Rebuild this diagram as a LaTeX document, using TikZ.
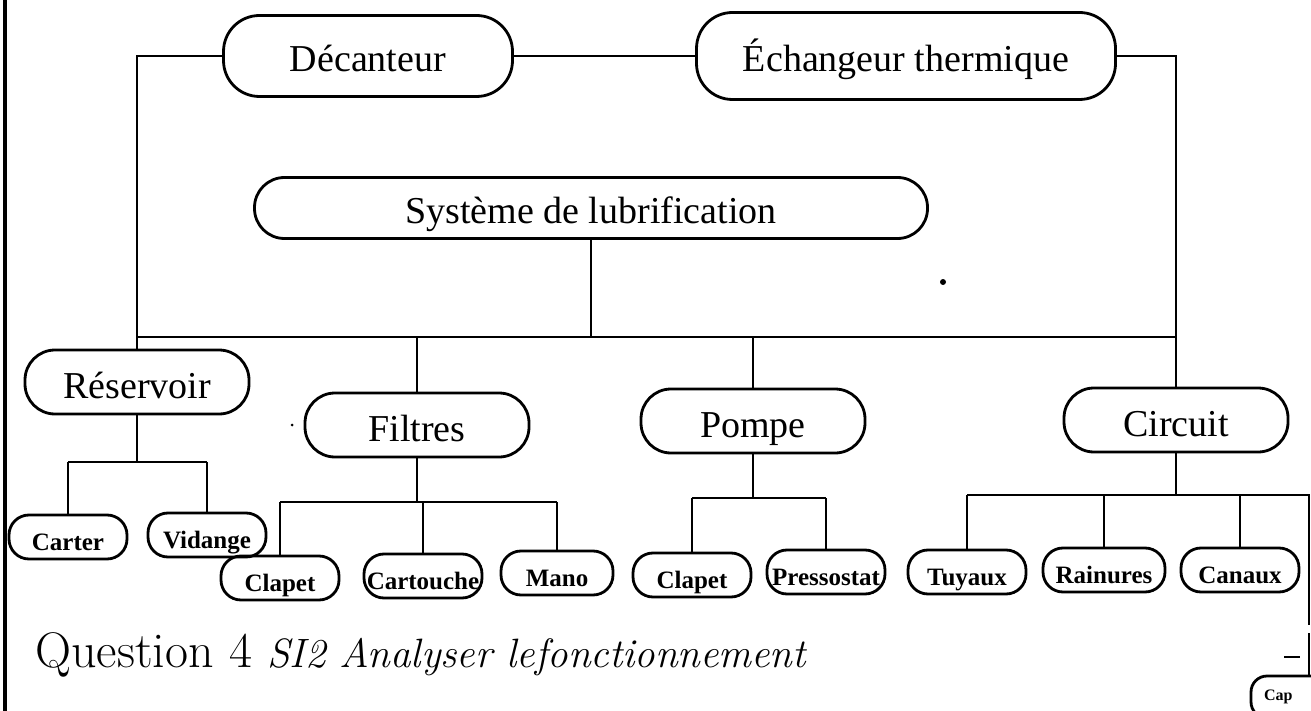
\documentclass[tikz,border=0pt]{standalone}
\usepackage{fontspec}
\newfontfamily\boxfont{Liberation Serif}
\usetikzlibrary{calc}

\tikzset{
  topbox/.style={draw, line width=1.4pt, rounded corners=18pt, inner sep=0pt,
    text height=18pt, text depth=2pt, font=\boxfont\fontsize{19}{22}\selectfont},
  midbox/.style={draw, line width=1.4pt, rounded corners=15pt, inner sep=0pt,
    minimum width=112pt, minimum height=32pt, text height=18pt, text depth=2pt,
    font=\boxfont\fontsize{19}{22}\selectfont},
  leafbox/.style={draw, line width=1.4pt, rounded corners=10pt, inner sep=0pt,
    minimum width=59pt, minimum height=22pt, text height=14pt, text depth=1pt,
    font=\boxfont\bfseries\fontsize{12.5}{14}\selectfont},
  link/.style={line width=1.4pt}
}

\begin{document}
\begin{tikzpicture}[x=0.5pt, y=-0.5pt]
  \clip (0,0) rectangle (1311,711);
  % top level
  \node[topbox, minimum width=144.5pt, minimum height=40.5pt] (dec) at (368,56) {Décanteur};
  \node[topbox, minimum width=209.5pt, minimum height=43.5pt] (ech) at (906,56) {Échangeur thermique};
  \node[topbox, minimum width=336.5pt, minimum height=30.5pt, rounded corners=15pt] (sys) at (591,208) {Système de lubrification};
  % second level
  \node[midbox] (res) at (137,382) {Réservoir};
  \node[midbox] (fil) at (417,425) {Filtres};
  \node[midbox] (pom) at (753,421) {Pompe};
  \node[midbox] (cir) at (1176,420) {Circuit};
  % leaves
  \node[leafbox] (car) at (68,537) {Carter};
  \node[leafbox] (vid) at (207,535) {Vidange};
  \node[leafbox] (cl1) at (280,578) {Clapet};
  \node[leafbox] (cart) at (423,576) {Cartouche};
  \node[leafbox, minimum width=56pt] (mano) at (557,573) {Mano};
  \node[leafbox] (cl2) at (692,575) {Clapet};
  \node[leafbox] (pres) at (826,572) {Pressostat};
  \node[leafbox] (tuy) at (967,572) {Tuyaux};
  \node[leafbox, minimum width=61pt] (rai) at (1104,570) {Rainures};
  \node[leafbox] (can) at (1240,570) {Canaux};
  \node[leafbox, rounded corners=8pt, minimum height=21pt] (cap) at (1310,697) {};
  \node[anchor=west, inner sep=0pt, font=\boxfont\bfseries\fontsize{8}{9}\selectfont] (captxt) at ([xshift=7pt]cap.west) {Cap};

  % branch levels
  \coordinate (bus) at (0,337);
  \coordinate (resbr) at (0,462);
  \coordinate (filbr) at (0,502);
  \coordinate (pombr) at (0,498);
  \coordinate (cirbr) at (0,495);
  \coordinate (cutR) at (1309,495);
  \coordinate (cutM) at (1309,625);
  \coordinate (capin) at (1309,633);
  \coordinate (dashL) at (1284,657);
  \coordinate (dashR) at (1300,657);

  % top loop
  \draw[link] (dec.east) -- (ech.west);
  \draw[link] (dec.west) -| (res.north);
  \draw[link] (ech.east) -| (cir.north);
  \draw[link] (res.north |- bus) -- (cir.north |- bus);
  \foreach \n in {sys.south, fil.north, pom.north}
    \draw[link] (\n) -- (\n |- bus);

  % sub trees
  \draw[link] (res.south) -- (res.south |- resbr);
  \draw[link] (car.north |- resbr) -- (vid.north |- resbr);
  \foreach \c in {car, vid}
    \draw[link] (\c.north) -- (\c.north |- resbr);

  \draw[link] (fil.south) -- (fil.south |- filbr);
  \draw[link] (cl1.north |- filbr) -- (mano.north |- filbr);
  \foreach \c in {cl1, cart, mano}
    \draw[link] (\c.north) -- (\c.north |- filbr);

  \draw[link] (pom.south) -- (pom.south |- pombr);
  \draw[link] (cl2.north |- pombr) -- (pres.north |- pombr);
  \foreach \c in {cl2, pres}
    \draw[link] (\c.north) -- (\c.north |- pombr);

  \draw[link] (cir.south) -- (cir.south |- cirbr);
  \draw[link] (tuy.north |- cirbr) -- (cutR) -- (cutM);
  \foreach \c in {tuy, rai, can}
    \draw[link] (\c.north) -- (\c.north |- cirbr);
  \draw[link] (capin) -- (capin |- cap.north);
  \draw[link] (dashL) -- (dashR);

  % frame and specks
  \draw[line width=2pt] (5,0) -- (5,711);
  \fill (943,282) circle (3);
  \fill (292,425) circle (1.5);

  % caption
  \node[anchor=base west, inner sep=0pt, font=\fontsize{25}{28}\selectfont] (quest) at (35,667)
    {Question 4 {\fontsize{20.5}{23}\selectfont\itshape SI2 Analyser lefonctionnement}};
\end{tikzpicture}
\end{document}
